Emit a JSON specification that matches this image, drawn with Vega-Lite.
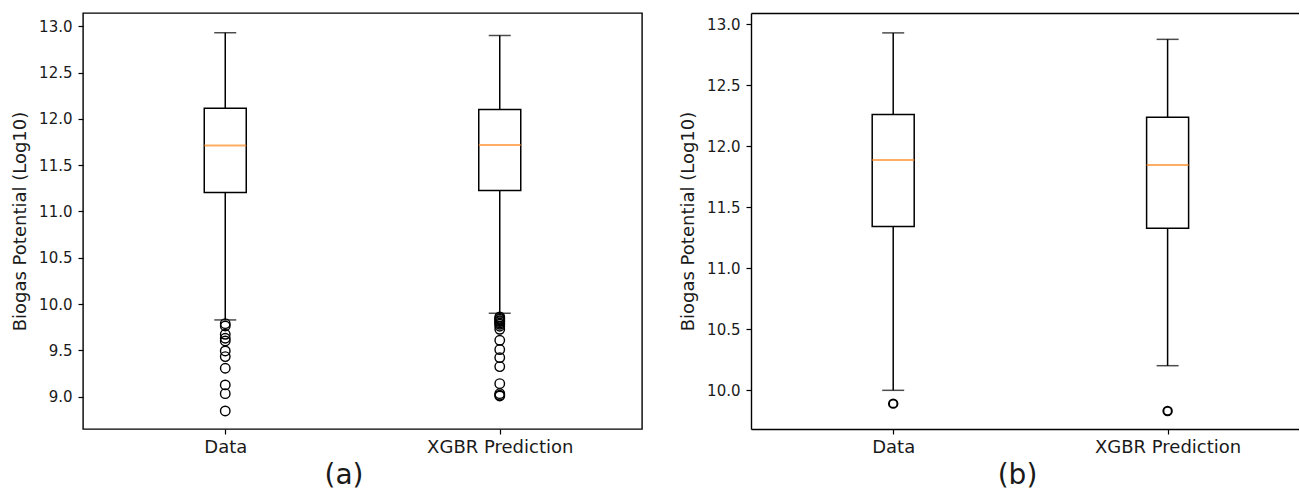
{
  "$schema": "https://vega.github.io/schema/vega-lite/v6.json",
  "padding": {"left": 10, "top": 12, "right": 0, "bottom": 0},
  "spacing": 36,
  "background": "white",
  "config": {
    "font": "DejaVu Sans",
    "axis": {
      "grid": false,
      "tickColor": "black",
      "tickWidth": 1.2,
      "tickSize": 5,
      "labelFont": "DejaVu Sans",
      "titleFont": "DejaVu Sans",
      "labelColor": "#1a1a1a",
      "titleColor": "#1a1a1a",
      "titleFontWeight": "normal",
      "domainColor": "black",
      "domainWidth": 1.4
    }
  },
  "hconcat": [
    {
      "width": 559,
      "height": 416,
      "view": {"stroke": "black", "strokeWidth": 1.4},
      "data": {"values": [
        {"x": 1, "lo": 9.828, "q1": 11.203, "med": 11.711, "q3": 12.114, "hi": 12.93},
        {"x": 2, "lo": 9.90, "q1": 11.225, "med": 11.718, "q3": 12.10, "hi": 12.90}
      ]},
      "encoding": {
        "x": {"field": "x", "type": "quantitative",
          "scale": {"domain": [0.5, 2.5], "nice": false, "zero": false},
          "axis": {"values": [1, 2], "labelExpr": "datum.value == 1 ? 'Data' : 'XGBR Prediction'",
            "domain": false, "labelFontSize": 18, "labelPadding": 4,
            "title": "(a)", "titleFontSize": 28, "titleX": 260.5, "titleY": 46, "titleBaseline": "middle", "titleAlign": "center"}}
      },
      "layer": [
        {"mark": {"type": "rule", "color": "black", "strokeWidth": 1.5},
         "encoding": {"y": {"field": "lo", "type": "quantitative",
            "scale": {"domain": [8.65, 13.143], "nice": false, "zero": false},
            "axis": {"values": [9, 9.5, 10, 10.5, 11, 11.5, 12, 12.5, 13], "format": ".1f", "domain": false,
              "labelFontSize": 15, "labelPadding": 6, "title": "Biogas Potential (Log10)", "titleFontSize": 18, "titlePadding": 9}},
           "y2": {"field": "hi"}}},
        {"mark": {"type": "bar", "size": 42, "fill": "white", "stroke": "black", "strokeWidth": 1.5},
         "encoding": {"y": {"field": "q1", "type": "quantitative"}, "y2": {"field": "q3"}}},
        {"mark": {"type": "tick", "orient": "horizontal", "size": 42, "thickness": 2, "color": "#ff8a1f"},
         "encoding": {"y": {"field": "med", "type": "quantitative"}}},
        {"mark": {"type": "tick", "orient": "horizontal", "size": 22, "thickness": 1.5, "color": "black"},
         "encoding": {"y": {"field": "hi", "type": "quantitative"}}},
        {"mark": {"type": "tick", "orient": "horizontal", "size": 22, "thickness": 1.5, "color": "black"},
         "encoding": {"y": {"field": "lo", "type": "quantitative"}}},
        {"data": {"values": [
          {"x": 1, "v": 9.788}, {"x": 1, "v": 9.763}, {"x": 1, "v": 9.673}, {"x": 1, "v": 9.630},
          {"x": 1, "v": 9.601}, {"x": 1, "v": 9.493}, {"x": 1, "v": 9.432}, {"x": 1, "v": 9.306},
          {"x": 1, "v": 9.126}, {"x": 1, "v": 9.032}, {"x": 1, "v": 8.845},
          {"x": 2, "v": 9.860}, {"x": 2, "v": 9.845}, {"x": 2, "v": 9.835}, {"x": 2, "v": 9.820},
          {"x": 2, "v": 9.810}, {"x": 2, "v": 9.795}, {"x": 2, "v": 9.781}, {"x": 2, "v": 9.760},
          {"x": 2, "v": 9.727}, {"x": 2, "v": 9.608}, {"x": 2, "v": 9.508}, {"x": 2, "v": 9.421},
          {"x": 2, "v": 9.324}, {"x": 2, "v": 9.140}, {"x": 2, "v": 9.032}, {"x": 2, "v": 9.015}, {"x": 2, "v": 9.007}
         ]},
         "mark": {"type": "point", "shape": "circle", "filled": false, "stroke": "black", "strokeWidth": 1.4, "size": 90, "opacity": 1},
         "encoding": {"y": {"field": "v", "type": "quantitative"}}}
      ]
    },
    {
      "width": 548,
      "height": 416,
      "view": {"stroke": null},
      "data": {"values": [
        {"x": 1, "lo": 10.0, "q1": 11.342, "med": 11.888, "q3": 12.262, "hi": 12.93},
        {"x": 2, "lo": 10.202, "q1": 11.328, "med": 11.847, "q3": 12.238, "hi": 12.877}
      ]},
      "resolve": {"axis": {"x": "independent"}},
      "layer": [
        {"mark": {"type": "rule", "color": "black", "strokeWidth": 1.5},
         "encoding": {
           "x": {"field": "x", "type": "quantitative",
             "scale": {"domain": [0.5, 2.4606], "nice": false, "zero": false},
             "axis": {"values": [1, 2], "labelExpr": "datum.value == 1 ? 'Data' : 'XGBR Prediction'",
               "domain": true, "labelFontSize": 18, "labelPadding": 4,
               "title": "(b)", "titleFontSize": 28, "titleX": 266, "titleY": 46, "titleBaseline": "middle", "titleAlign": "center"}},
           "y": {"field": "lo", "type": "quantitative",
            "scale": {"domain": [9.683, 13.093], "nice": false, "zero": false},
            "axis": {"values": [10, 10.5, 11, 11.5, 12, 12.5, 13], "format": ".1f", "domain": true,
              "labelFontSize": 15, "labelPadding": 6, "title": "Biogas Potential (Log10)", "titleFontSize": 18, "titlePadding": 9}},
           "y2": {"field": "hi"}}},
        {"mark": {"type": "bar", "size": 42, "fill": "white", "stroke": "black", "strokeWidth": 1.5},
         "encoding": {"x": {"field": "x", "type": "quantitative", "axis": {"orient": "top", "labels": false, "ticks": false, "domain": true, "title": null, "grid": false}},
           "y": {"field": "q1", "type": "quantitative"}, "y2": {"field": "q3"}}},
        {"mark": {"type": "tick", "orient": "horizontal", "size": 42, "thickness": 2, "color": "#ff8a1f"},
         "encoding": {"x": {"field": "x", "type": "quantitative", "axis": null}, "y": {"field": "med", "type": "quantitative"}}},
        {"mark": {"type": "tick", "orient": "horizontal", "size": 22, "thickness": 1.5, "color": "black"},
         "encoding": {"x": {"field": "x", "type": "quantitative", "axis": null}, "y": {"field": "hi", "type": "quantitative"}}},
        {"mark": {"type": "tick", "orient": "horizontal", "size": 22, "thickness": 1.5, "color": "black"},
         "encoding": {"x": {"field": "x", "type": "quantitative", "axis": null}, "y": {"field": "lo", "type": "quantitative"}}},
        {"data": {"values": [
          {"x": 1, "v": 9.891},
          {"x": 2, "v": 9.831}
         ]},
         "mark": {"type": "point", "shape": "circle", "filled": false, "stroke": "black", "strokeWidth": 2, "size": 72, "opacity": 1},
         "encoding": {"x": {"field": "x", "type": "quantitative", "axis": null}, "y": {"field": "v", "type": "quantitative"}}}
      ]
    }
  ]
}
